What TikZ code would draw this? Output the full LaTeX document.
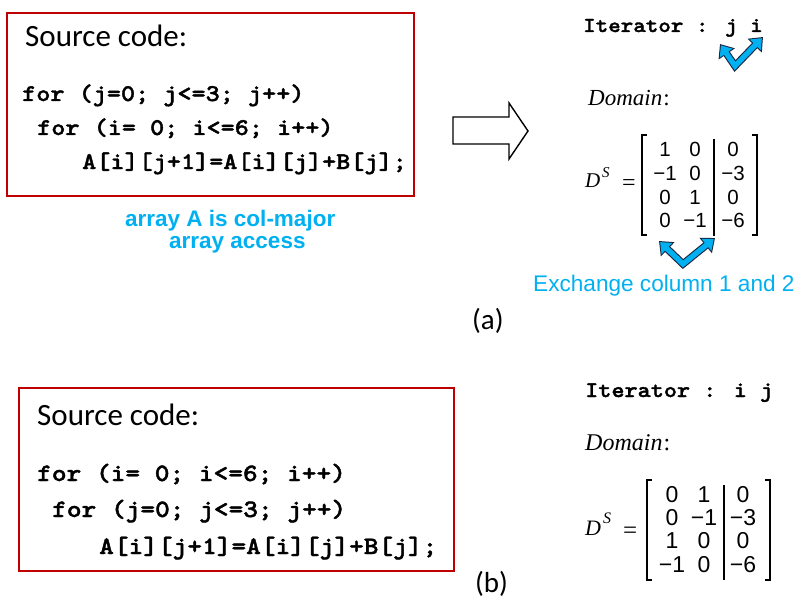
\documentclass[tikz,border=0pt]{standalone}
\usepackage{fontspec}
\setmainfont{Carlito}
\newfontfamily\arialf{Liberation Sans}
\newfontfamily\timesf{Liberation Serif}
\newfontfamily\codef{lmmonolt10-bold.otf}[FakeBold=1.6,FakeStretch=1.12]
\usetikzlibrary{arrows.meta}
\definecolor{boxred}{RGB}{192,0,0}
\definecolor{skyb}{RGB}{0,176,240}
\definecolor{navyo}{RGB}{25,35,60}
\tikzset{
  srcbox/.style={draw=boxred, line width=1.8pt},
  srctitle/.style={font=\fontsize{31}{31}\selectfont, anchor=base west, inner sep=0pt},
  codeA/.style={font=\codef\fontsize{24}{24}\selectfont, anchor=base west, inner sep=0pt},
  codeB/.style={font=\codef\fontsize{25}{25}\selectfont, anchor=base west, inner sep=0pt},
  iterA/.style={font=\codef\fontsize{21.3}{21.3}\selectfont, anchor=base west, inner sep=0pt},
  iterB/.style={font=\codef\fontsize{22.3}{22.3}\selectfont, anchor=base west, inner sep=0pt},
  domA/.style={font=\timesf\fontsize{23}{23}\selectfont, anchor=base west, inner sep=0pt},
  domB/.style={font=\timesf\fontsize{24}{24}\selectfont, anchor=base west, inner sep=0pt},
  bluebold/.style={font=\arialf\bfseries\fontsize{22.5}{22.5}\selectfont, text=skyb, anchor=base west, inner sep=0pt},
  bluereg/.style={font=\arialf\fontsize{22.6}{22.6}\selectfont, text=skyb, anchor=base west, inner sep=0pt},
  capt/.style={font=\fontsize{29}{29}\selectfont, anchor=base west, inner sep=0pt},
  entA/.style={font=\arialf\fontsize{20.5}{20.5}\selectfont, anchor=base, inner sep=0pt},
  entB/.style={font=\arialf\fontsize{23}{23}\selectfont, anchor=base, inner sep=0pt},
  bigD/.style={font=\timesf\itshape\fontsize{#1}{#1}\selectfont, anchor=base west, inner sep=0pt},
  eqsign/.style={font=\timesf\fontsize{#1}{#1}\selectfont, anchor=base west, inner sep=0pt},
  brk/.style={line width=1.1pt, black},
  swapout/.style={line width=7.5pt, navyo, line join=miter,
     {Triangle[length=12pt,width=19pt]}-{Triangle[length=12pt,width=19pt]}},
  swapin/.style={line width=5.3pt, skyb, line join=miter, shorten <=1.6pt, shorten >=1.6pt,
     {Triangle[length=9.4pt,width=15pt]}-{Triangle[length=9.4pt,width=15pt]}},
  hollow/.style={draw=black, line width=1.4pt, fill=white, line join=miter}
}
\begin{document}
\begin{tikzpicture}[x=1pt,y=-1pt]
\useasboundingbox (0,0) rectangle (795,599);

% ---------- (a) ----------
\draw[srcbox] (7,13) rectangle (414,196);
\node[srctitle] (stA) at (25,47) {Source code:};
\node[codeA] (ca1) at (22,101) {for (j=0; j<=3; j++)};
\node[codeA] (ca2) at (37,135) {for (i= 0; i<=6; i++)};
\node[codeA] (ca3) at (82,169) {A[i][j+1]=A[i][j]+B[j];};
\node[bluebold] (colm) at (125,226) {array A is col-major};
\node[bluebold] (acc) at (169,248) {array access};

% hollow block arrow
\draw[hollow] (453,117) -- (509,117) -- (509,103) -- (528,131) -- (509,159) -- (509,144) -- (453,144) -- cycle;

\node[iterA] (itA) at (583,32) {Iterator : j i};
\node[domA] (dmA) at (588,106) {{\itshape Domain}\kern1pt:};

% swap arrow (iterator)
\coordinate (sa1) at (720,44);
\coordinate (sa2) at (735,66);
\coordinate (sa3) at (763,37);
\draw[swapout] (sa1) -- (sa2) -- (sa3);
\draw[swapin] (sa1) -- (sa2) -- (sa3);

% D^S matrix (a)
\node[bigD=21] (DA) at (585,187) {D};
\node[bigD=15] (SA) at (602,178) {S};
\node[eqsign=24] (eqA) at (622,190) {=};
\draw[brk] (647,135) -- (642,135) -- (642,235) -- (647,235);
\draw[brk] (752,135) -- (757,135) -- (757,235) -- (752,235);
\draw[brk] (714,139) -- (714,236);
\node[entA] (a11) at (665,157) {1};
\node[entA] (a12) at (695,157) {0};
\node[entA] (a13) at (733,157) {0};
\node[entA] (a21) at (665,180.5) {−1};
\node[entA] (a22) at (695,180.5) {0};
\node[entA] (a23) at (733,180.5) {−3};
\node[entA] (a31) at (665,204) {0};
\node[entA] (a32) at (695,204) {1};
\node[entA] (a33) at (733,204) {0};
\node[entA] (a41) at (665,227.5) {0};
\node[entA] (a42) at (695,227.5) {−1};
\node[entA] (a43) at (733,227.5) {−6};

% swap arrow (columns)
\coordinate (sb1) at (659,241);
\coordinate (sb2) at (683,264);
\coordinate (sb3) at (715,238);
\draw[swapout] (sb1) -- (sb2) -- (sb3);
\draw[swapin] (sb1) -- (sb2) -- (sb3);

\node[bluereg] (exch) at (533,291) {Exchange column 1 and 2};
\node[capt] (capa) at (472,329) {(a)};

% ---------- (b) ----------
\draw[srcbox] (19,388) rectangle (454,571);
\node[srctitle] (stB) at (37,425) {Source code:};
\node[codeB] (cb1) at (37,481) {for (i= 0; i<=6; i++)};
\node[codeB] (cb2) at (52,517) {for (j=0; j<=3; j++)};
\node[codeB] (cb3) at (99,554) {A[i][j+1]=A[i][j]+B[j];};
\node[capt] (capb) at (475,592) {(b)};

\node[iterB] (itB) at (585,397) {Iterator : i j};
\node[domB] (dmB) at (585,450) {{\itshape Domain}\kern1pt:};

\node[bigD=22] (DB) at (585,535) {D};
\node[bigD=16] (SB) at (603,523) {S};
\node[eqsign=25] (eqB) at (623,538) {=};
\draw[brk] (652,480) -- (647,480) -- (647,580) -- (652,580);
\draw[brk] (765,480) -- (770,480) -- (770,580) -- (765,580);
\draw[brk] (724,485) -- (724,580);
\node[entB] (b11) at (672,502) {0};
\node[entB] (b12) at (704,502) {1};
\node[entB] (b13) at (743,502) {0};
\node[entB] (b21) at (672,525) {0};
\node[entB] (b22) at (704,525) {−1};
\node[entB] (b23) at (743,525) {−3};
\node[entB] (b31) at (672,548) {1};
\node[entB] (b32) at (704,548) {0};
\node[entB] (b33) at (743,548) {0};
\node[entB] (b41) at (672,572) {−1};
\node[entB] (b42) at (704,572) {0};
\node[entB] (b43) at (743,572) {−6};
\end{tikzpicture}
\end{document}
